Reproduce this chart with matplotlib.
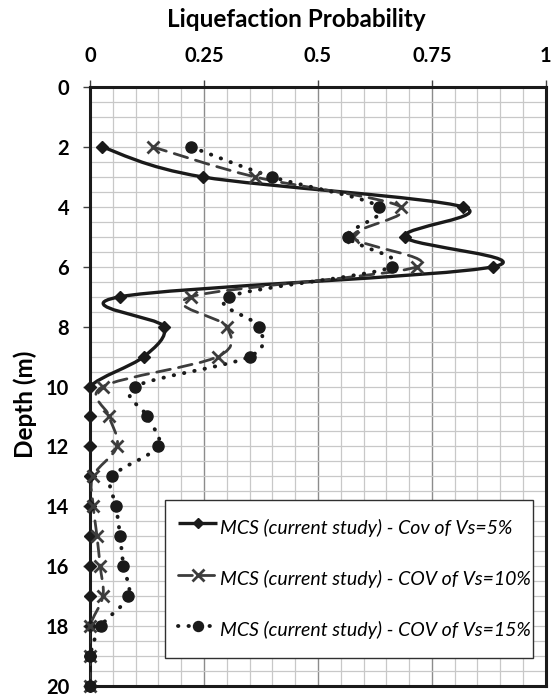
import numpy as np
import matplotlib
matplotlib.use('Agg')
import matplotlib.pyplot as plt
from matplotlib.path import Path
from matplotlib.patches import PathPatch
from matplotlib.lines import Line2D
from matplotlib.ticker import MultipleLocator

plt.rcParams['font.family'] = ['Lato', 'DejaVu Sans']
plt.rcParams['font.weight'] = 'bold'

depth = [2, 3, 4, 5, 6, 7, 8, 9, 10, 11, 12, 13, 14, 15, 16, 17, 18, 19, 20]
prob_cov5 = [0.026, 0.247, 0.818, 0.69, 0.884, 0.066, 0.162, 0.118, 0.0,
             0.0, 0.0, 0.0, 0.0, 0.0, 0.0, 0.0, 0.0, 0.0, 0.0]
prob_cov10 = [0.138, 0.362, 0.682, 0.577, 0.717, 0.222, 0.30, 0.28, 0.028,
              0.042, 0.059, 0.006, 0.007, 0.015, 0.022, 0.028, 0.0, 0.0, 0.0]
prob_cov15 = [0.222, 0.40, 0.634, 0.566, 0.662, 0.305, 0.37, 0.35, 0.099,
              0.125, 0.149, 0.049, 0.057, 0.066, 0.073, 0.084, 0.024, 0.0, 0.0]
labels = ['MCS (current study) - Cov of Vs=5%',
          'MCS (current study) - COV of Vs=10%',
          'MCS (current study) - COV of Vs=15%']
xticks = [0, 0.25, 0.5, 0.75, 1]
xticklabels = ['0', '0.25', '0.5', '0.75', '1']
yticks = [0, 2, 4, 6, 8, 10, 12, 14, 16, 18, 20]


def smoothPath(xs, ys):
    # excel style smoothed line -> cubic bezier path
    p = np.column_stack([xs, ys]).astype(float)
    n = len(p)
    verts = [p[0]]
    codes = [Path.MOVETO]
    for i in range(n - 1):
        prev = p[i - 1] if i > 0 else p[i]
        nxt = p[i + 2] if i + 2 < n else p[i + 1]
        c1 = p[i] + (p[i + 1] - prev) / 6.0
        c2 = p[i + 1] - (nxt - p[i]) / 6.0
        verts += [c1, c2, p[i + 1]]
        codes += [Path.CURVE4] * 3
    return Path(verts, codes)


fig = plt.figure(figsize=(5.53, 6.98), dpi=100)
ax = fig.add_axes([0.163, 0.0172, 0.824, 0.858])

styles = [
    dict(color='#1a1a1a', ls='-', lw=2.4, marker='D', ms=6, mew=1),
    dict(color='#3c3c3c', ls=(0, (5, 3)), lw=2.0, marker='x', ms=9, mew=2),
    dict(color='#1a1a1a', ls=(0, (0.1, 2.6)), lw=2.8, marker='o', ms=8, mew=1),
]
series = [prob_cov5, prob_cov10, prob_cov15]

handles = []
for vals, st in zip(series, styles):
    patch = PathPatch(smoothPath(vals, depth), facecolor='none', edgecolor=st['color'],
                      lw=st['lw'], linestyle=st['ls'], capstyle='round', joinstyle='round',
                      zorder=3)
    ax.add_patch(patch)
    ax.plot(vals, depth, ls='none', marker=st['marker'], ms=st['ms'], mew=st['mew'],
            color=st['color'], zorder=4, clip_on=False)
    h = Line2D([], [], color=st['color'], ls=st['ls'], lw=st['lw'], marker=st['marker'],
               ms=st['ms'] * 0.9, mew=st['mew'], solid_capstyle='butt', dash_capstyle='round')
    handles.append(h)

ax.set_xlim(0, 1)
ax.set_ylim(20, 0)
ax.xaxis.tick_top()
ax.xaxis.set_label_position('top')
ax.set_xticks(xticks)
ax.set_xticklabels(xticklabels)
ax.set_yticks(yticks)
ax.set_yticklabels([str(v) for v in yticks])
ax.xaxis.set_minor_locator(MultipleLocator(0.05))
ax.yaxis.set_minor_locator(MultipleLocator(0.5))

ax.grid(which='minor', color='#c8c8c8', lw=0.9, zorder=0)
ax.grid(which='major', axis='x', color='#8c8c8c', lw=1.0, zorder=0)
ax.grid(which='major', axis='y', color='#c8c8c8', lw=0.9, zorder=0)
ax.set_axisbelow(True)
ax.tick_params(which='minor', length=0)
ax.tick_params(which='major', length=5, width=1, color='#404040', pad=10, labelsize=14.5)
for s in ax.spines.values():
    s.set_linewidth(2.2)
    s.set_color('#1a1a1a')

ax.set_xlabel('Liquefaction Probability', fontsize=17.5, fontweight='bold', va='center')
ax.xaxis.set_label_coords(0.452, 1.113)
ax.set_ylabel('Depth (m)', fontsize=17.5, fontweight='bold', va='center')
ax.yaxis.set_label_coords(-0.142, 0.47)

leg = ax.legend(handles, labels, loc='lower left', bbox_to_anchor=(0.164, 0.047, 0.807, 0.268),
                mode='expand', prop={'style': 'italic', 'size': 14, 'weight': 'normal'},
                labelspacing=1.15, handlelength=2.0, handleheight=1.9, handletextpad=0.15,
                borderpad=0.7, borderaxespad=0, fancybox=False, framealpha=1,
                edgecolor='#303030')
leg.get_frame().set_linewidth(1.0)
leg.set_zorder(5)

fig.savefig('out.png', dpi=100)
